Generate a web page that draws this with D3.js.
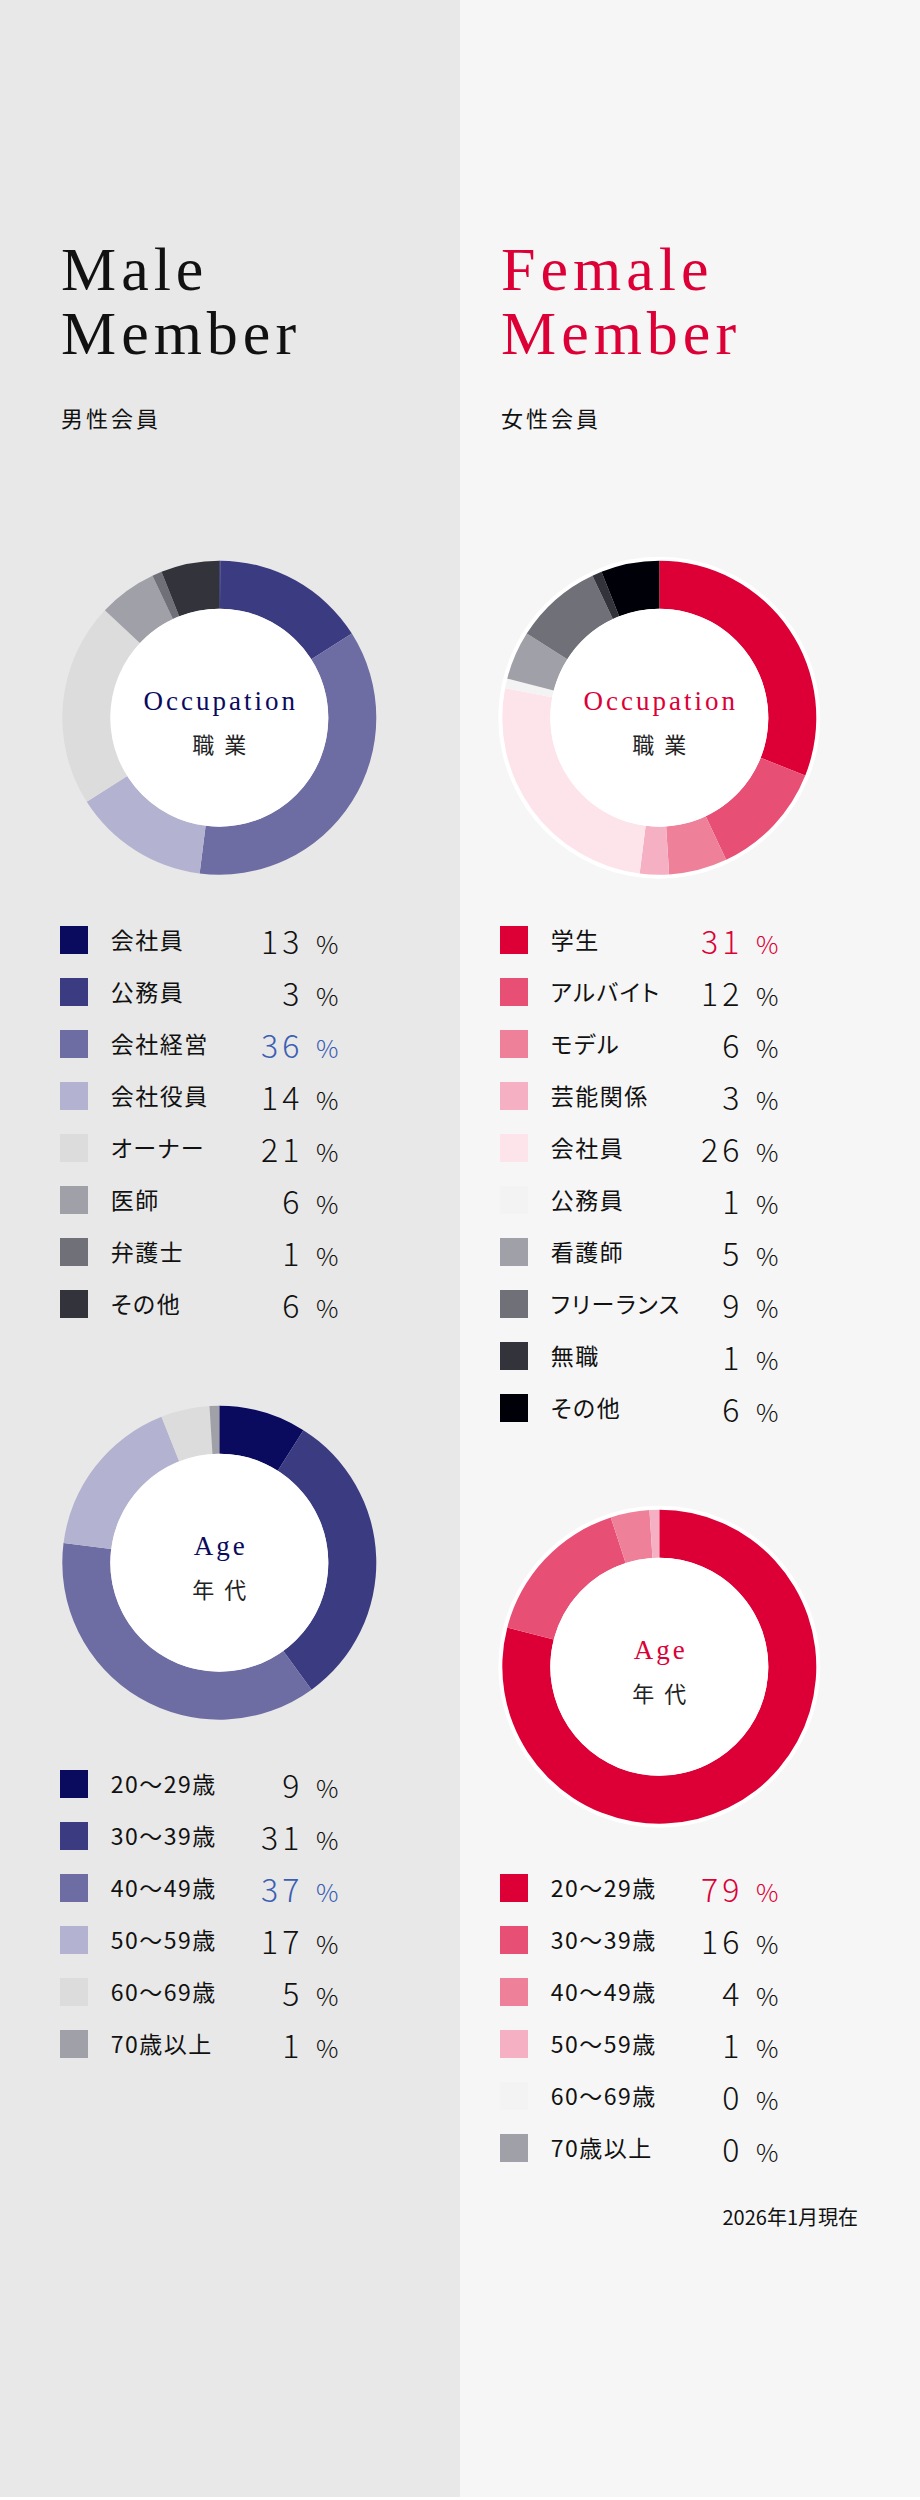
<!DOCTYPE html>
<html>
<head>
<meta charset="utf-8">
<script src="https://cdn.jsdelivr.net/npm/d3@7/dist/d3.min.js"></script>
<style>
  html, body { margin: 0; padding: 0; background: #ffffff; }
  svg { display: block; }
  .lbl { font-feature-settings: "palt" 1; }
</style>
</head>
<body>
<script>
// ---------------- DATA ----------------
const maleOccLabels = ["会社員", "公務員", "会社経営", "会社役員", "オーナー", "医師", "弁護士", "その他"];
const maleOccPct = [13, 3, 36, 14, 21, 6, 1, 6];
// slice sizes as drawn in the donut of the picture
const maleOccSlices = [0.1, 15.9, 36, 14, 21, 6, 1, 6];

const maleAgeLabels = ["20〜29歳", "30〜39歳", "40〜49歳", "50〜59歳", "60〜69歳", "70歳以上"];
const maleAgePct = [9, 31, 37, 17, 5, 1];

const femaleOccLabels = ["学生", "アルバイト", "モデル", "芸能関係", "会社員", "公務員", "看護師", "フリーランス", "無職", "その他"];
const femaleOccPct = [31, 12, 6, 3, 26, 1, 5, 9, 1, 6];

const femaleAgeLabels = ["20〜29歳", "30〜39歳", "40〜49歳", "50〜59歳", "60〜69歳", "70歳以上"];
const femaleAgePct = [79, 16, 4, 1, 0, 0];

const footnote = "2026年1月現在";

// ---------------- STYLES ----------------
const malePalette = ["#0a0a5e", "#3b3b82", "#6d6ca3", "#b3b3d1", "#dcdcdc", "#a0a0a8", "#707078", "#33333b"];
const maleAgePalette = ["#0a0a5e", "#3b3b82", "#6d6ca3", "#b3b3d1", "#dcdcdc", "#a0a0a8"];
const femalePalette = ["#dc0036", "#e84f74", "#ef8099", "#f5b0c3", "#fce4ea", "#f3f3f3", "#a0a0a8", "#707078", "#33333b", "#000008"];
const femaleAgePalette = ["#dc0036", "#e84f74", "#ef8099", "#f5b0c3", "#f3f3f3", "#a0a0a8"];

const W = 920, H = 2500;
const SERIF = "'Liberation Serif', 'Times New Roman', serif";
const SANS = "'Noto Sans CJK JP', 'Noto Sans', sans-serif";
const RED = "#dc0036", NAVY = "#0a0a5e", BLUE = "#3b5fb3";

const svg = d3.select("body").append("svg").attr("width", W).attr("height", H);

// backgrounds
svg.append("rect").attr("x", 0).attr("y", 0).attr("width", 460).attr("height", H).attr("fill", "#e8e8e8");
svg.append("rect").attr("x", 460).attr("y", 0).attr("width", 460).attr("height", H).attr("fill", "#f6f6f6");
svg.append("rect").attr("x", 0).attr("y", H - 3).attr("width", W).attr("height", 3).attr("fill", "#ffffff");

// titles
function title(x, lines, color, sub) {
  const g = svg.append("g");
  lines.forEach((t, i) => {
    g.append("text").attr("x", x).attr("y", 290 + i * 64)
      .attr("font-family", SERIF).attr("font-size", 62).attr("letter-spacing", 5)
      .attr("fill", color).text(t);
  });
  g.append("text").attr("x", x).attr("y", 427)
    .attr("font-family", SANS).attr("font-size", 22).attr("letter-spacing", 3)
    .attr("fill", "#111").text(sub);
}
title(61, ["Male", "Member"], "#111111", "男性会員");
title(501, ["Female", "Member"], RED, "女性会員");

// donuts
const pie = d3.pie().sort(null).value(d => d);
const arc = d3.arc().innerRadius(109).outerRadius(157);

function donut(cx, cy, values, palette, en, jp, enColor, ring) {
  const g = svg.append("g").attr("transform", `translate(${cx},${cy})`);
  if (ring) g.append("circle").attr("r", 161).attr("fill", "#ffffff");
  g.selectAll("path").data(pie(values)).join("path")
    .attr("d", arc).attr("fill", (d, i) => palette[i]);
  g.append("circle").attr("r", 109).attr("fill", "#ffffff");
  g.append("text").attr("x", 1.5).attr("y", -8).attr("text-anchor", "middle")
    .attr("font-family", SERIF).attr("font-size", 27).attr("letter-spacing", 3)
    .attr("fill", enColor).text(en);
  g.append("text").attr("x", 5).attr("y", 35).attr("text-anchor", "middle")
    .attr("font-family", SANS).attr("font-size", 22).attr("letter-spacing", 10)
    .attr("fill", "#222").text(jp);
}

donut(219.3, 717.7, maleOccSlices, malePalette, "Occupation", "職業", NAVY, false);
donut(219.3, 1562.7, maleAgePct, maleAgePalette, "Age", "年代", NAVY, false);
donut(659.3, 717.7, femaleOccPct, femalePalette, "Occupation", "職業", RED, true);
donut(659.3, 1666.7, femaleAgePct, femaleAgePalette, "Age", "年代", RED, true);

// legends
function legend(x0, y0, labels, values, palette, hiColor) {
  const maxV = d3.max(values);
  const y = d3.scaleBand().domain(d3.range(labels.length)).range([y0, y0 + 52 * labels.length]);
  const g = svg.append("g");
  const rows = g.selectAll("g").data(labels).join("g")
    .attr("transform", (d, i) => `translate(${x0},${y(i)})`);
  rows.append("rect").attr("x", 0).attr("y", 0).attr("width", 28).attr("height", 28)
    .attr("fill", (d, i) => palette[i]);
  rows.append("text").attr("class", "lbl").attr("x", 50.7).attr("y", 22.6)
    .attr("font-family", SANS).attr("font-size", 23).attr("letter-spacing", 1.5)
    .attr("fill", "#111").text(d => d);
  rows.append("text").attr("x", 243.3).attr("y", 28).attr("text-anchor", "end")
    .attr("font-family", SANS).attr("font-weight", 300).attr("font-size", 32).attr("letter-spacing", 4)
    .attr("fill", (d, i) => values[i] === maxV ? hiColor : "#111").text((d, i) => values[i]);
  rows.append("text").attr("x", 256).attr("y", 28)
    .attr("font-family", SANS).attr("font-weight", 300).attr("font-size", 25)
    .attr("fill", (d, i) => values[i] === maxV ? hiColor : "#111").text("%");
}

legend(60, 926, maleOccLabels, maleOccPct, malePalette, BLUE);
legend(60, 1770, maleAgeLabels, maleAgePct, maleAgePalette, BLUE);
legend(500, 926, femaleOccLabels, femaleOccPct, femalePalette, RED);
legend(500, 1874, femaleAgeLabels, femaleAgePct, femaleAgePalette, RED);

// footnote
svg.append("text").attr("x", 858).attr("y", 2225).attr("text-anchor", "end")
  .attr("font-family", SANS).attr("font-size", 20).attr("fill", "#111").text(footnote);
</script>
</body>
</html>
